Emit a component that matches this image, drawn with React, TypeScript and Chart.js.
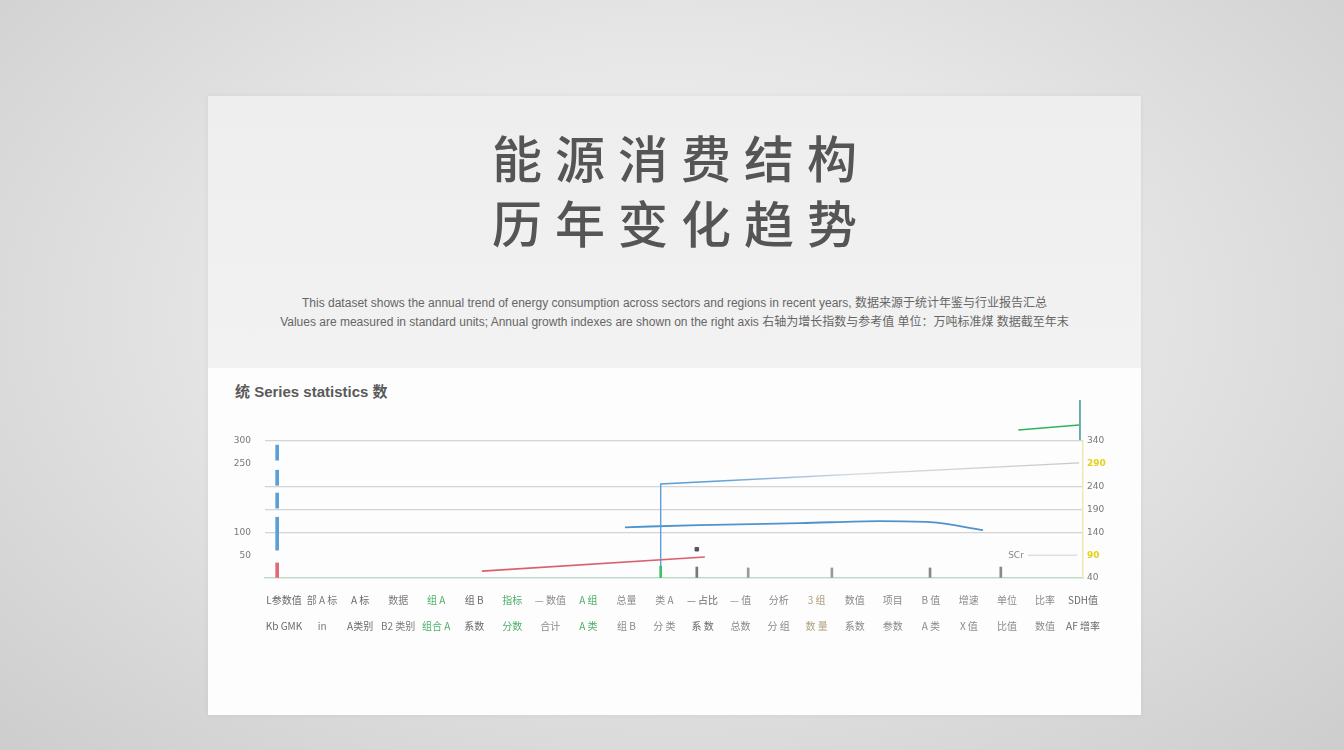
import React, { useEffect, useRef } from "react";
import { Chart, registerables } from "chart.js";

Chart.register(...registerables);

// ---------- data ----------
const titleLines = ["能源消费结构", "历年变化趋势"];
const subtitleLines = [
  "This dataset shows the annual trend of energy consumption across sectors and regions in recent years, 数据来源于统计年鉴与行业报告汇总",
  "Values are measured in standard units; Annual growth indexes are shown on the right axis 右轴为增长指数与参考值 单位：万吨标准煤 数据截至年末",
];
const chartHeading = "统 Series statistics 数";

const xLabelsTop = [
  "L参数值", "部 A 标", "A 标", "数据", "组 A", "组 B", "指标", "— 数值", "A 组", "总量", "类 A",
  "— 占比", "— 值", "分析", "3 组", "数值", "项目", "B 值", "增速", "单位", "比率", "SDH值",
];
const xLabelsBottom = [
  "Kb GMK", "in", "A类别", "B2 类别", "组合 A", "系数", "分数", "合计", "A 类", "组 B", "分 类",
  "系 数", "总数", "分 组", "数 量", "系数", "参数", "A 类", "X 值", "比值", "数值", "AF 增率",
];
const xLabelColors = [
  "#6a6a6a", "#7a7a7a", "#6a6a6a", "#7a7a7a", "#4caf6a", "#6a6a6a", "#4caf6a", "#8a8a8a", "#4caf6a", "#8a8a8a", "#8a8a8a",
  "#6a6a6a", "#8a8a8a", "#8a8a8a", "#b0a080", "#8a8a8a", "#8a8a8a", "#8a8a8a", "#8a8a8a", "#8a8a8a", "#8a8a8a", "#6a6a6a",
];

const yLeftTicks = [0, 50, 100, 150, 200, 250, 300];
const yLeftShownLabels = [300, 250, 100, 50];
const yLeftGridValues = [300, 200, 150, 100, 0];
const yRightTicks = [40, 90, 140, 190, 240, 290, 340];
const yRightHighlight = [90, 290];

// left stacked thin bars (floating ranges) at the first category
const barX = -0.18;
const blueBarRanges: [number, number][] = [[258, 291], [203, 236], [153, 186], [61, 133]];
const redBarRanges: [number, number][] = [[0, 33]];

// thin marker bars along the base
const markerX = [9.9, 10.85, 12.2, 14.4, 16.98, 18.84];
const markerTop = [26, 24, 22, 22, 22, 24];
const markerColors = ["#3cc36a", "#777777", "#999999", "#999999", "#888888", "#888888"];

// red line
const redX = [5.2, 11.06];
const redY = [15, 46];

// blue step line
const stepX = [9.9, 9.9, 20.9];
const stepY = [0, 206, 252];

// blue curve
const curveX = [8.96, 10.9, 13.56, 15.66, 16.98, 18.37];
const curveY = [111, 116, 120, 124.7, 122.5, 105];

// green line top-right
const greenX = [19.3, 20.9];
const greenY = [324, 335];
const tealX = [20.92, 20.92];
const tealY = [302, 390];

// point marker
const pointX = [10.85];
const pointY = [63];

// reference line on right axis
const refX = [19.55, 20.85];
const refY = [90, 90];
const refText = "SCr";

const zip = (xs: number[], ys: number[]) => xs.map((x, i) => ({ x, y: ys[i] }));

function ChartBox() {
  const ref = useRef<HTMLCanvasElement | null>(null);
  useEffect(() => {
    if (!ref.current) return;
    const blue = "#5a9fd6";
    const refPlugin = {
      id: "refText",
      afterDatasetsDraw(chart: any) {
        const meta = chart.getDatasetMeta(8);
        if (!meta || !meta.data[0]) return;
        const p = meta.data[0];
        const c = chart.ctx;
        c.save();
        c.font = "9px 'DejaVu Sans'";
        c.fillStyle = "#888";
        c.textAlign = "right";
        c.textBaseline = "middle";
        c.fillText(refText, p.x - 4, p.y);
        c.restore();
      },
    };
    const chart = new Chart(ref.current, {
      type: "bar",
      data: {
        datasets: [
          {
            type: "bar",
            label: "A",
            data: blueBarRanges.map((r) => ({ x: barX, y: r })) as any,
            backgroundColor: blue,
            barThickness: 3,
            grouped: false,
            yAxisID: "y",
          },
          {
            type: "bar",
            label: "B",
            data: redBarRanges.map((r) => ({ x: barX, y: r })) as any,
            backgroundColor: "#e06a78",
            barThickness: 3,
            grouped: false,
            yAxisID: "y",
          },
          {
            type: "bar",
            label: "M",
            data: markerX.map((x, i) => ({ x, y: [0, markerTop[i]] })) as any,
            backgroundColor: markerColors,
            barThickness: 2,
            grouped: false,
            yAxisID: "y",
          },
          {
            type: "line",
            label: "Red",
            data: zip(redX, redY),
            borderColor: "#d9606c",
            borderWidth: 1.6,
            pointRadius: 0,
            yAxisID: "y",
          },
          {
            type: "line",
            label: "Step",
            data: zip(stepX, stepY),
            borderColor: (ctx: any) => {
              const ca = ctx.chart.chartArea;
              if (!ca) return blue;
              const g = ctx.chart.ctx.createLinearGradient(ca.left, 0, ca.right, 0);
              g.addColorStop(0, blue);
              g.addColorStop(0.55, blue);
              g.addColorStop(0.72, "#d4dce4");
              g.addColorStop(1, "#c8c8c8");
              return g;
            },
            borderWidth: 1.4,
            pointRadius: 0,
            yAxisID: "y",
          },
          {
            type: "line",
            label: "Curve",
            data: zip(curveX, curveY),
            borderColor: "#4f93cc",
            borderWidth: 1.8,
            pointRadius: 0,
            cubicInterpolationMode: "monotone",
            yAxisID: "y",
          },
          {
            type: "line",
            label: "Green",
            data: zip(greenX, greenY),
            borderColor: "#2fb35a",
            borderWidth: 1.6,
            pointRadius: 0,
            clip: false as any,
            yAxisID: "y",
          },
          {
            type: "line",
            label: "Teal",
            data: zip(tealX, tealY),
            borderColor: "#2f8f86",
            borderWidth: 1.4,
            pointRadius: 0,
            clip: false as any,
            yAxisID: "y",
          },
          {
            type: "line",
            label: "Ref",
            data: zip(refX, refY),
            borderColor: "#d0d0d0",
            borderWidth: 1,
            pointRadius: 0,
            yAxisID: "y2",
          },
          {
            type: "line",
            label: "Pt",
            data: zip(pointX, pointY),
            showLine: false,
            pointStyle: "rect",
            pointRadius: 2.5,
            pointBackgroundColor: "#555",
            pointBorderColor: "#555",
            yAxisID: "y",
          },
        ],
      },
      options: {
        responsive: false,
        animation: false,
        layout: { padding: { left: 20, right: 20, top: 41, bottom: 10 } },
        plugins: { legend: { display: false }, tooltip: { enabled: false } },
        scales: {
          x: {
            type: "linear",
            offset: false,
            min: -0.5,
            max: 21,
            afterBuildTicks: (s: any) => {
              s.ticks = xLabelsTop.map((_, i) => ({ value: i }));
            },
            afterFit: (s: any) => {
              s.height = 62;
            },
            grid: { color: "transparent", drawTicks: false, offset: false },
            border: { display: true, color: "#bcd9c6", width: 1.2 },
            ticks: {
              autoSkip: false,
              maxRotation: 0,
              padding: 9,
              font: { size: 10, family: "'Noto Sans CJK SC', 'DejaVu Sans'", lineHeight: 2.6 },
              color: (ctx: any) => xLabelColors[ctx.index] || "#888",
              callback: (v: any) => {
                const i = Math.round(Number(v));
                return [xLabelsTop[i] ?? "", xLabelsBottom[i] ?? ""];
              },
            },
          },
          y: {
            type: "linear",
            position: "left",
            min: 0,
            max: 300,
            afterBuildTicks: (s: any) => {
              s.ticks = yLeftTicks.map((v) => ({ value: v }));
            },
            afterFit: (s: any) => {
              s.width = 37;
            },
            grid: {
              drawTicks: false,
              color: (ctx: any) =>
                ctx.tick && yLeftGridValues.includes(ctx.tick.value) ? "#d4d4d4" : "transparent",
              lineWidth: 1.2,
            },
            border: { display: false },
            ticks: {
              padding: 14,
              font: { size: 9, family: "'DejaVu Sans'" },
              color: "#777",
              callback: (v: any) => (yLeftShownLabels.includes(Number(v)) ? String(v) : ""),
            },
          },
          y2: {
            type: "linear",
            position: "right",
            min: 40,
            max: 340,
            afterBuildTicks: (s: any) => {
              s.ticks = yRightTicks.map((v) => ({ value: v }));
            },
            afterFit: (s: any) => {
              s.width = 38;
            },
            grid: { display: false, drawTicks: false },
            border: { display: true, color: "#efe9b0", width: 1.5 },
            ticks: {
              padding: 4,
              font: (ctx: any) =>
                ({
                  size: 9,
                  family: "'DejaVu Sans'",
                  weight: ctx.tick && yRightHighlight.includes(ctx.tick.value) ? "bold" : "normal",
                }) as any,
              color: (ctx: any) =>
                ctx.tick && yRightHighlight.includes(ctx.tick.value) ? "#e2d31a" : "#777",
            },
          },
        },
      },
      plugins: [refPlugin],
    } as any);
    return () => chart.destroy();
  }, []);
  return <canvas ref={ref} width={933} height={250} style={{ display: "block", width: 933, height: 250 }} />;
}

export default function App() {
  return (
    <div
      style={{
        position: "relative",
        width: 1344,
        height: 750,
        overflow: "hidden",
        background: "radial-gradient(ellipse at 50% 42%, #f5f5f5 0%, #e6e6e6 45%, #cdcdcd 100%)",
        fontFamily: "'Liberation Sans', 'DejaVu Sans', sans-serif",
      }}
    >
      <style>{"body{margin:0;}"}</style>
      <div
        style={{
          position: "absolute",
          left: 208,
          top: 96,
          width: 933,
          height: 619,
          background: "#fdfdfd",
          boxShadow: "0 0 6px rgba(0,0,0,0.06)",
        }}
      >
        <div
          style={{
            position: "absolute",
            left: 0,
            top: 0,
            width: 933,
            height: 272,
            background: "linear-gradient(180deg, #eeeeee 0%, #f2f2f2 100%)",
          }}
        />
        {titleLines.map((t, i) => (
          <div
            key={i}
            style={{
              position: "absolute",
              left: 0,
              width: 933,
              top: 30 + i * 65,
              height: 60,
              lineHeight: "60px",
              textAlign: "center",
              fontFamily: "'Noto Sans CJK SC', sans-serif",
              fontSize: 50,
              fontWeight: 500,
              letterSpacing: 13,
              paddingLeft: 13,
              boxSizing: "border-box",
              color: "#555555",
            }}
          >
            {t}
          </div>
        ))}
        {subtitleLines.map((t, i) => (
          <div
            key={i}
            style={{
              position: "absolute",
              left: 0,
              width: 933,
              top: 198 + i * 19,
              height: 18,
              lineHeight: "18px",
              textAlign: "center",
              fontFamily: "'Liberation Sans', 'Noto Sans CJK SC', sans-serif",
              fontSize: 12,
              color: "#666666",
              whiteSpace: "nowrap",
            }}
          >
            {t}
          </div>
        ))}
        <div
          style={{
            position: "absolute",
            left: 27,
            top: 286,
            height: 20,
            lineHeight: "20px",
            fontFamily: "'Liberation Sans', 'Noto Sans CJK SC', sans-serif",
            fontSize: 15,
            fontWeight: 700,
            color: "#5a5a5a",
            whiteSpace: "nowrap",
          }}
        >
          {chartHeading}
        </div>
        <div style={{ position: "absolute", left: 0, top: 304 }}>
          <ChartBox />
        </div>
      </div>
    </div>
  );
}
